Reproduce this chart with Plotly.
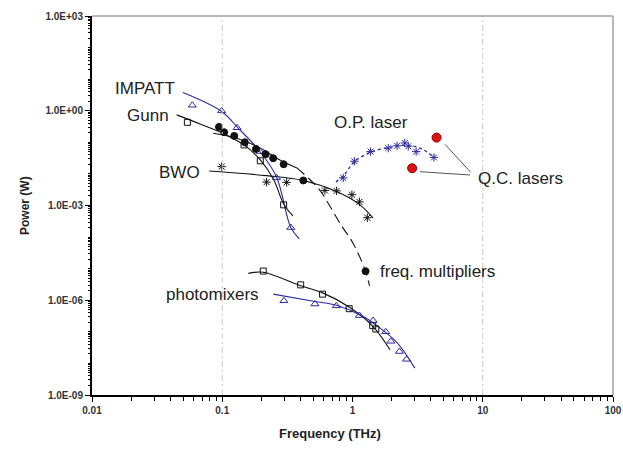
import plotly.graph_objects as go

# ---------------- data (frequency THz, power W) ----------------
impatt_f = [0.0589, 0.0989, 0.130, 0.195, 0.261, 0.336]
impatt_p = [1.49, 0.99, 0.29, 0.051, 0.0076, 2.0e-4]
impatt_line_f = [0.0499, 0.099, 0.133, 0.195, 0.261, 0.336, 0.390]
impatt_line_p = [3.79, 0.95, 0.279, 0.051, 0.0080, 2.0e-4, 8.8e-5]

gunn_f = [0.054, 0.147, 0.196, 0.296]
gunn_p = [0.43, 0.083, 0.026, 1.05e-3]
gunn_line_f = [0.0447, 0.0675, 0.0995, 0.147, 0.196, 0.249, 0.296, 0.349]
gunn_line_p = [0.74, 0.382, 0.198, 0.083, 0.0277, 0.00646, 0.00112, 4.7e-4]

bwo_f = [0.099, 0.219, 0.312, 0.614, 0.755, 0.99, 1.13, 1.30]
bwo_p = [0.017, 0.0055, 0.0054, 0.0030, 0.0029, 0.0022, 0.0013, 4.1e-4]
bwo_line_f = [0.0794, 0.219, 0.419, 0.755, 1.14, 1.44]
bwo_line_p = [0.0124, 0.0088, 0.0062, 0.00275, 0.00105, 4.0e-4]

mult_f = [0.0944, 0.1035, 0.1236, 0.149, 0.1815, 0.2154, 0.246, 0.296, 0.419, 1.26]
mult_p = [0.307, 0.209, 0.160, 0.1007, 0.0618, 0.042, 0.0314, 0.0203, 0.0062, 8.3e-6]
mult_solid_f = [0.0853, 0.129, 0.195, 0.277, 0.374]
mult_solid_p = [0.194, 0.135, 0.0665, 0.0277, 0.0155]
mult_dash_f = [0.374, 0.546, 0.651, 0.815, 1.01, 1.26, 1.35]
mult_dash_p = [0.0155, 0.00353, 0.00118, 2.43e-4, 6.4e-5, 8.3e-6, 2.86e-6]

op_f = [0.849, 1.034, 1.377, 1.88, 2.20, 2.52, 2.68, 3.08, 4.22]
op_p = [0.00747, 0.0252, 0.0508, 0.0655, 0.078, 0.0957, 0.0754, 0.0508, 0.0333]
op_line_f = [0.746, 0.849, 1.034, 1.377, 1.88, 2.35, 2.85, 3.4, 4.22]
op_line_p = [0.0056, 0.0085, 0.024, 0.049, 0.068, 0.08, 0.077, 0.062, 0.034]

qc_f = [4.42, 2.87]
qc_p = [0.141, 0.0151]

pm_sq_f = [0.2065, 0.400, 0.589, 0.943, 1.43, 1.51]
pm_sq_p = [8.4e-6, 3.07e-6, 1.56e-6, 5.4e-7, 1.57e-7, 1.23e-7]
pm_sq_line_f = [0.1585, 0.2065, 0.394, 0.596, 0.955, 1.44, 1.94]
pm_sq_line_p = [7.1e-6, 7.7e-6, 2.92e-6, 1.68e-6, 5.9e-7, 1.47e-7, 2.7e-8]

pm_tri_f = [0.2975, 0.5145, 0.752, 1.13, 1.44, 1.80, 1.97, 2.29, 2.60]
pm_tri_p = [9.6e-7, 7.6e-7, 6.65e-7, 3.28e-7, 2.28e-7, 1.0e-7, 5.0e-8, 2.38e-8, 1.35e-8]
pm_tri_line_f = [0.246, 0.5145, 0.755, 1.21, 1.53, 2.18, 3.01]
pm_tri_line_p = [1.56e-6, 9.1e-7, 6.9e-7, 3.05e-7, 1.58e-7, 4.7e-8, 7.1e-9]

x_tickvals = [0.01, 0.1, 1, 10, 100]
x_ticktext = ["0.01", "0.1", "1", "10", "100"]
y_tickvals = [1e-9, 1e-6, 1e-3, 1, 1e3]
y_ticktext = ["1.0E-09", "1.0E-06", "1.0E-03", "1.0E+00", "1.0E+03"]

labels = ["IMPATT", "Gunn", "BWO", "O.P. laser", "Q.C. lasers", "freq. multipliers", "photomixers"]

# ---------------- styling ----------------
BLUE = "#2b2b9e"
BLACK = "#111111"
FONT = "Arial, Liberation Sans, sans-serif"

fig = go.Figure()

def line(fx, py, color, dash="solid", width=1.1):
    fig.add_trace(go.Scatter(x=fx, y=py, mode="lines",
                             line=dict(color=color, width=width, dash=dash, shape="spline", smoothing=1.0),
                             hoverinfo="skip", showlegend=False))

def marks(fx, py, symbol, color, size, fill=None, lw=1):
    fig.add_trace(go.Scatter(x=fx, y=py, mode="markers",
                             marker=dict(symbol=symbol, size=size,
                                         color=fill if fill else color,
                                         line=dict(color=color, width=lw)),
                             showlegend=False))

line(impatt_line_f, impatt_line_p, BLUE)
line(gunn_line_f, gunn_line_p, BLACK)
line(bwo_line_f, bwo_line_p, BLACK)
line(mult_solid_f, mult_solid_p, BLACK)
line(mult_dash_f, mult_dash_p, BLACK, dash="10px,5px")
line(op_line_f, op_line_p, BLUE, dash="3px,3px", width=1.3)
line(pm_sq_line_f, pm_sq_line_p, BLACK)
line(pm_tri_line_f, pm_tri_line_p, BLUE)

marks(impatt_f, impatt_p, "triangle-up-open", BLUE, 7)
marks(gunn_f, gunn_p, "square-open", BLACK, 6)
marks(bwo_f, bwo_p, "asterisk-open", BLACK, 7)
marks(mult_f, mult_p, "circle", BLACK, 7, fill=BLACK)
marks(op_f, op_p, "asterisk-open", BLUE, 7)
marks(qc_f, qc_p, "circle", "#8b0000", 9, fill="#e01010")
marks(pm_sq_f, pm_sq_p, "square-open", BLACK, 6)
marks(pm_tri_f, pm_tri_p, "triangle-up-open", BLUE, 7)

# plot-area pixel geometry helpers (paper coords)
L, R, T, B = 92, 613, 16, 395
def px(xp):
    return (xp - L) / (R - L)
def py_(yp):
    return (B - yp) / (B - T)

label_pos = [(145, 88), (147.5, 115), (179.5, 172.5), (370.5, 122.5),
             (520.5, 178.3), (437.5, 271.3), (212.5, 294.3)]
annotations = []
for txt, (ax_, ay_) in zip(labels, label_pos):
    annotations.append(dict(text=txt, x=px(ax_), y=py_(ay_), xref="paper", yref="paper",
                            showarrow=False, xanchor="center", yanchor="middle",
                            font=dict(family=FONT, size=17, color="#222222")))
annotations.append(dict(text="<b>Power (W)</b>", x=px(25), y=py_(206), xref="paper", yref="paper",
                        showarrow=False, textangle=-90, xanchor="center", yanchor="middle",
                        font=dict(family=FONT, size=12, color="#222222")))
annotations.append(dict(text="<b>Frequency (THz)</b>", x=px(330), y=py_(433), xref="paper", yref="paper",
                        showarrow=False, xanchor="center", yanchor="middle",
                        font=dict(family=FONT, size=13, color="#222222")))

shapes = [
    # vertical dashed grid lines at 0.1 and 10 THz
    dict(type="line", xref="paper", yref="paper", x0=0.25, x1=0.25, y0=0, y1=1,
         line=dict(color="#c8c8c8", width=1, dash="6px,3px,2px,3px")),
    dict(type="line", xref="paper", yref="paper", x0=0.75, x1=0.75, y0=0, y1=1,
         line=dict(color="#c8c8c8", width=1, dash="6px,3px,2px,3px")),
    # grey top/right frame
    dict(type="line", xref="paper", yref="paper", x0=0, x1=1, y0=1, y1=1,
         line=dict(color="#a0a0a0", width=1.5)),
    dict(type="line", xref="paper", yref="paper", x0=1, x1=1, y0=0, y1=1,
         line=dict(color="#a0a0a0", width=1.5)),
    # Q.C. laser leader lines
    dict(type="line", xref="paper", yref="paper", x0=px(445), y0=py_(144.3), x1=px(470.7), y1=py_(172.3),
         line=dict(color="#555555", width=1)),
    dict(type="line", xref="paper", yref="paper", x0=px(420), y0=py_(171.7), x1=px(470), y1=py_(175),
         line=dict(color="#555555", width=1)),
]

fig.update_layout(
    width=623, height=451, autosize=False,
    margin=dict(l=L, r=623 - R, t=T, b=451 - B, pad=0),
    paper_bgcolor="white", plot_bgcolor="white",
    showlegend=False,
    annotations=annotations,
    shapes=shapes,
    xaxis=dict(type="log", range=[-2, 2], tickvals=x_tickvals, ticktext=x_ticktext,
               automargin=False,
               showgrid=False, zeroline=False, showline=True, linecolor="black", linewidth=2,
               ticks="outside", ticklen=5, tickcolor="black", tickwidth=1,
               ticklabeloverflow="allow",
               tickfont=dict(family=FONT, size=10, color="#333333", weight="bold"),
               minor=dict(dtick="D1", ticks="outside", ticklen=4, tickcolor="black", showgrid=False)),
    yaxis=dict(type="log", range=[-9, 3], tickvals=y_tickvals, ticktext=y_ticktext,
               automargin=False,
               showgrid=False, zeroline=False, showline=True, linecolor="black", linewidth=2,
               ticks="outside", ticklen=5, tickcolor="black", tickwidth=1,
               ticklabeloverflow="allow",
               tickfont=dict(family=FONT, size=10, color="#333333", weight="bold"),
               minor=dict(dtick="D1", ticks="outside", ticklen=2, tickcolor="black", showgrid=False)),
)

fig.write_html("out.html", config={"displayModeBar": False},
               post_script="document.body.style.margin='0';document.body.style.overflow='hidden';")
